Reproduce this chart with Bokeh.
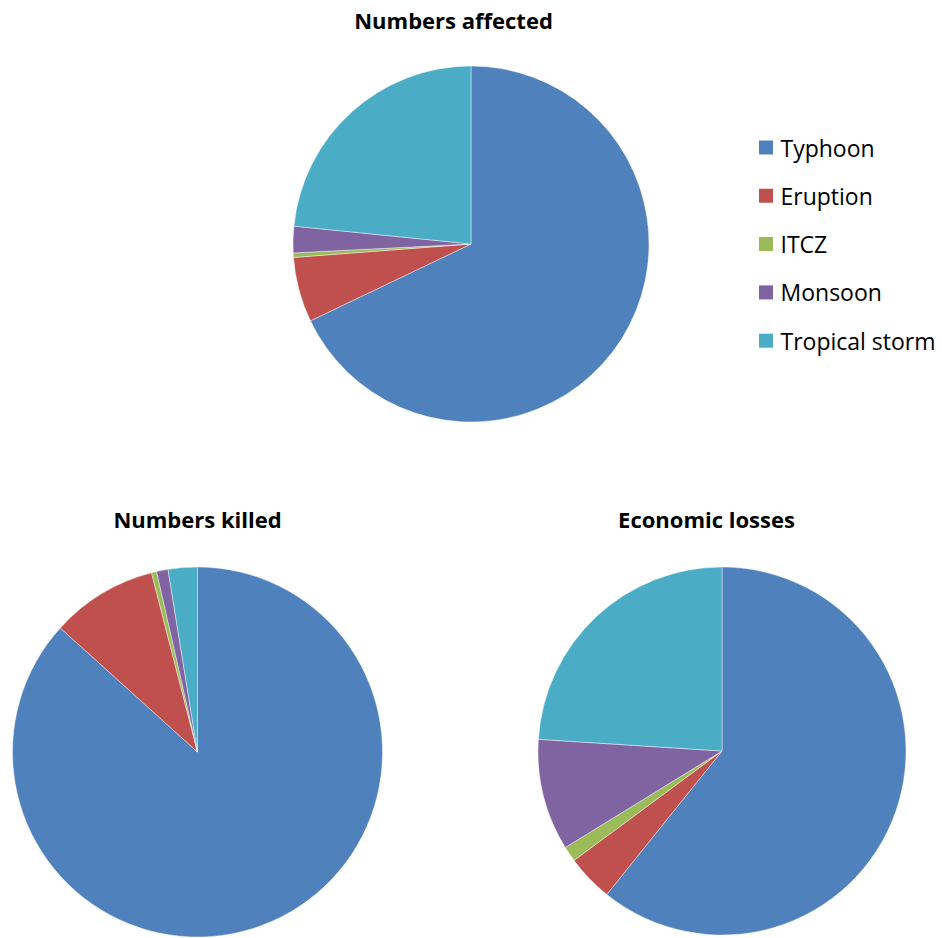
import numpy as np
from bokeh.plotting import figure
from bokeh.models import Range1d, ColumnDataSource
from bokeh.core.properties import value
from bokeh.embed import file_html
from bokeh.resources import INLINE

# ---- data ----
categories = ["Typhoon", "Eruption", "ITCZ", "Monsoon", "Tropical storm"]
colors = ["#4F81BD", "#C0504D", "#9BBB59", "#8064A2", "#4BACC6"]
affected = [67.9, 5.9, 0.4, 2.4, 23.4]
killed = [86.7, 9.3, 0.45, 1.0, 2.55]
losses = [60.8, 4.1, 1.35, 9.8, 24.0]
titles = ["Numbers affected", "Numbers killed", "Economic losses"]

W, H = 942, 938
FONT = "Open Sans"

p = figure(width=W, height=H, output_backend="svg", toolbar_location=None,
           x_range=Range1d(0, W), y_range=Range1d(0, H), min_border=0)
p.axis.visible = False
p.grid.visible = False
p.outline_line_color = None
p.background_fill_color = "white"
p.border_fill_color = "white"


def Y(ypx):
    return H - ypx


def pie(vals, cx, cy, r):
    v = np.array(vals, dtype=float)
    frac = v / v.sum()
    cum = np.concatenate([[0.0], np.cumsum(frac)])
    start = np.pi / 2 - 2 * np.pi * cum[:-1]
    end = np.pi / 2 - 2 * np.pi * cum[1:]
    src = ColumnDataSource(dict(start=start, end=end, color=colors, cat=categories))
    p.wedge(x=cx, y=Y(cy), radius=r, radius_units="screen",
            start_angle="start", end_angle="end", direction="clock",
            fill_color="color", line_color="white", line_alpha=0.6,
            line_width=0.7, source=src)


pie(affected, 470.5, 243.5, 178)
pie(killed, 197, 751.5, 185)
pie(losses, 721.5, 750.5, 184)

# titles
tx = [453, 197, 706]
ty = [19, 518, 518]
p.text(x=tx, y=[Y(v) for v in ty], text=titles, text_font=value(FONT),
       text_font_style="bold", text_font_size="22px", text_align="center",
       text_baseline="middle", text_color="black")

# legend
ly = [147 + i * 48.3 for i in range(len(categories))]
p.rect(x=[765.5] * 5, y=[Y(v) for v in ly], width=14, height=14,
       width_units="screen", height_units="screen", fill_color=colors, line_color=None)
p.text(x=[780] * 5, y=[Y(v) for v in ly], text=categories, text_font=value(FONT),
       text_font_size="23px", text_align="left", text_baseline="middle",
       text_color="black")

open("out.html", "w").write(file_html(p, INLINE))
